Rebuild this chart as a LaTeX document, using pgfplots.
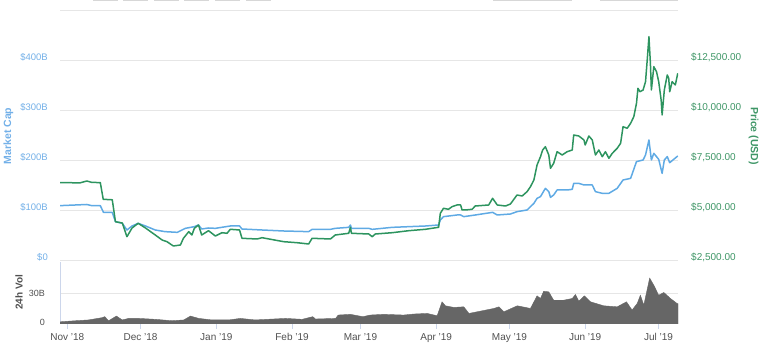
\documentclass[border=0pt]{standalone}
\usepackage{fontspec}
\setmainfont{Liberation Sans}
\usepackage{pgfplots}
\pgfplotsset{compat=1.18}
\definecolor{capblue}{RGB}{95,170,228}
\definecolor{captext}{RGB}{115,176,232}
\definecolor{pricegreen}{RGB}{45,148,95}
\definecolor{pricetext}{RGB}{62,150,102}
\definecolor{volgray}{RGB}{102,102,102}
\definecolor{gridgray}{RGB}{230,230,230}
\definecolor{axisblue}{RGB}{204,214,235}
\definecolor{labgray}{RGB}{80,80,80}
\definecolor{btngray}{RGB}{215,215,215}
\begin{document}
\begin{tikzpicture}
\useasboundingbox (0pt,0pt) rectangle (768pt,352pt);
% cut-off range selector boxes at the top
\foreach \a/\b in {93/118,123/148,154/179,184/209,215/240,246/271,493/572,600/678}
  \draw[btngray, line width=1.2pt] (\a pt,351.2pt) -- (\b pt,351.2pt);

% ---------- Market cap (left axis) ----------
\begin{axis}[at={(60pt,91pt)}, anchor=south west, scale only axis,
  width=618pt, height=250pt,
  xmin=-3, xmax=250, ymin=0, ymax=500, xtick=\empty,
  ytick={0,100,200,300,400,500},
  yticklabels={\$0,\$100B,\$200B,\$300B,\$400B,{}},
  ymajorgrids, grid style={gridgray, line width=1pt},
  axis line style={draw=none}, ytick style={draw=none},
  yticklabel style={anchor=east, inner sep=0pt, xshift=-12pt, yshift=4pt,
    text=captext, font=\fontsize{9.5}{11}\selectfont}]
\addplot[capblue, line width=1.5pt, line join=round] coordinates {
(-3,110.7)(8,113)(10,110.7)(13.5,110.7)(14.8,97.3)(18.4,97.3)(19.7,78.7)
(22.5,75.3)(24.4,62)(26.5,70)(29,75.3)(32,70)(36,62)(40,58.7)(45,57.3)
(48.3,65.3)(52,68.7)(53.7,72)(55,64)(57.8,66)(60.6,65.3)(66.7,70)(70.5,70)
(71.5,64)(79.7,62)(88.6,60)(98.8,58.7)(100.2,63.3)(107.7,63.3)(109.7,65.3)
(115.2,67.3)(115.9,72)(116.3,65.3)(123.4,65.3)(124.8,63.3)(133,67.3)
(146.6,70)(152,72)(152.7,82)(154,88.7)(159.5,92)(161,92)(162.3,88.7)
(167,92)(174.1,97.3)(176,92)(181.4,94)(184.1,98.7)(188.2,102)(191,115.3)
(192.3,125.3)(193.7,128.7)(195.7,145.3)(197.1,138.7)(197.8,127.3)(199.1,132)
(200.5,142)(204.6,142)(206.7,143.3)(207.3,155.3)(209.4,155.3)(211.5,152)
(214.9,152)(216.2,138.7)(219,135.3)(221.7,135.3)(225.1,145.3)(227.5,162)
(230.6,165.3)(233,198.7)(235.7,202)(236.7,212)(238.1,242)(239.1,202)
(240.1,215.3)(242.1,203.3)(243.5,175.3)(244.4,202)(245.6,208.7)(246.6,196.7)
(249.9,210)};
\end{axis}

% ---------- Price (right axis) ----------
\begin{axis}[at={(60pt,91pt)}, anchor=south west, scale only axis,
  width=618pt, height=250pt,
  xmin=-3, xmax=250, ymin=2500, ymax=15000,
  axis x line=none, axis y line*=right,
  axis line style={draw=none}, ytick style={draw=none},
  ytick={2500,5000,7500,10000,12500},
  yticklabels={{\$2,500.00},{\$5,000.00},{\$7,500.00},{\$10,000.00},{\$12,500.00}},
  yticklabel style={anchor=west, inner sep=0pt, xshift=13pt, yshift=4pt,
    text=pricetext, font=\fontsize{10}{12}\selectfont}]
\addplot[pricegreen, line width=1.5pt, line join=round] coordinates {
(-3,6415)(0,6420)(5,6400)(8,6500)(10,6430)(13.5,6420)(14.7,5585)(18.4,5560)
(19.7,4465)(22.5,4400)(24.4,3715)(26.5,4150)(29,4385)(32,4150)(36,3800)
(38.8,3550)(40.8,3465)(43.4,3250)(46.3,3300)(47.5,3630)(49.7,3965)(51,3800)
(52,4135)(53.7,4300)(55,3800)(57.8,4015)(60.6,3750)(63.3,3915)(65.4,3885)
(66.7,4085)(70.5,4050)(71.5,3635)(77.7,3600)(79.7,3665)(88.6,3465)(94,3415)
(98.8,3350)(100.2,3635)(107.7,3600)(109.7,3800)(115.2,3885)(115.9,4185)
(116.3,3885)(123.4,3850)(124.8,3715)(126.1,3850)(133,3915)(139.8,4015)
(146.6,4085)(152,4185)(152.7,4885)(154,5135)(156,5085)(157.5,5215)
(159.5,5300)(161,5300)(161.6,5050)(163,5050)(165.7,5085)(167,5250)
(172.5,5300)(174.1,5635)(176,5300)(179.4,5250)(181.4,5350)(184.1,5800)
(186.2,5750)(188.2,5965)(189.6,6215)(191,6550)(192.3,7300)(193.7,7715)
(194.6,8050)(195.7,8215)(197.1,7800)(197.8,7135)(199.1,7385)(200.5,7965)
(202.6,7800)(204.6,7965)(206.7,8050)(207.3,8800)(209.4,8750)(211.5,8550)
(212,8300)(213.5,8750)(214.9,8550)(216.2,7800)(217.6,8050)(219,7715)
(220.3,7965)(221.7,7635)(223.1,7885)(225.1,8135)(226.5,8385)(227.5,9215)
(229.2,9135)(230.6,9385)(231.9,9715)(233,10385)(233.6,11135)(234.4,10965)
(235.7,11050)(236.7,11465)(237.4,12550)(238.1,13715)(238.7,12385)
(239.1,11050)(240.1,12215)(241.2,11965)(242.1,11465)(243.1,10550)
(243.5,9800)(244.4,11050)(245.6,11800)(246.2,11635)(246.6,10965)
(247.6,11465)(248.9,11300)(249.9,11885)};
\end{axis}

% ---------- 24h volume ----------
\begin{axis}[at={(60pt,28pt)}, anchor=south west, scale only axis,
  width=618pt, height=62pt,
  xmin=-3, xmax=250, ymin=0, ymax=61,
  axis x line*=bottom, axis y line*=left,
  axis line style={axisblue, line width=1pt, -},
  xtick={0,30,61,92,120,151,181,212,242},
  xticklabels={Nov '18,Dec '18,Jan '19,Feb '19,Mar '19,Apr '19,May '19,Jun '19,Jul '19},
  ytick={0,30}, yticklabels={\raisebox{3.5pt}{0},30B},
  ymajorgrids, grid style={gridgray, line width=1pt},
  tick align=outside, major tick length=5pt,
  xtick style={axisblue, line width=1pt}, ytick style={draw=none},
  xticklabel style={inner sep=0pt, yshift=-4pt, text=labgray,
    font=\fontsize{10}{12}\selectfont},
  yticklabel style={anchor=east, inner sep=0pt, xshift=-10pt, text=labgray,
    font=\fontsize{9}{11}\selectfont}]
\addplot[fill=volgray, draw=volgray, line width=0.4pt] coordinates {
(-3,2)(-2.2,2.3)(3.3,3.2)(8.7,4)(14.2,6.2)(15.3,7.2)(16.9,3.2)(20.1,7.8)
(22.5,4)(25.1,5.5)(29.2,5.5)(36,4.6)(42.9,3.2)(47.7,4)(50.4,7.8)(53.8,5.5)
(59.2,4)(66.1,4)(70.8,5.5)(76.9,4)(89.3,5.5)(96.1,4.6)(100.5,7.2)(101.6,4.9)
(109.8,5.5)(110.9,8.8)(115.9,9.5)(121,7.2)(124,8.8)(129.5,9.5)(137.7,8.8)
(141.8,9.8)(147.3,10.4)(151.4,8.1)(153.4,21.8)(154.8,17.9)(158.2,16.3)
(162.3,16.9)(164.4,10.4)(167.8,12)(174.6,15.3)(176.7,16.9)(178.7,12)
(184.2,17.9)(189.6,15.3)(192.3,27.7)(193.7,25.1)(195,32.2)(197.1,31.6)
(199.1,23.4)(203.2,23.4)(206.7,25.1)(208,29)(209.4,22.5)(211.7,27.7)
(214.2,21.8)(219.6,17.9)(225.1,16.9)(228.9,21.8)(231.2,13.7)(233.3,20.2)
(234.6,28.3)(236,18.6)(238.4,45.2)(240.1,38.1)(242.1,28.3)(244.2,31)
(246.9,25.1)(249.6,20.2)(250,20)} \closedcycle;
\end{axis}

% axis titles
\node[rotate=90, text=captext, font=\bfseries\fontsize{10.5}{12}\selectfont] at (8.5pt,216pt) {Market Cap};
\node[rotate=-90, text=pricetext, font=\bfseries\fontsize{10.5}{12}\selectfont] at (753.5pt,216pt) {Price (USD)};
\node[rotate=90, text=labgray, font=\bfseries\fontsize{10}{12}\selectfont] at (19pt,59.5pt) {24h Vol};
\end{tikzpicture}
\end{document}
